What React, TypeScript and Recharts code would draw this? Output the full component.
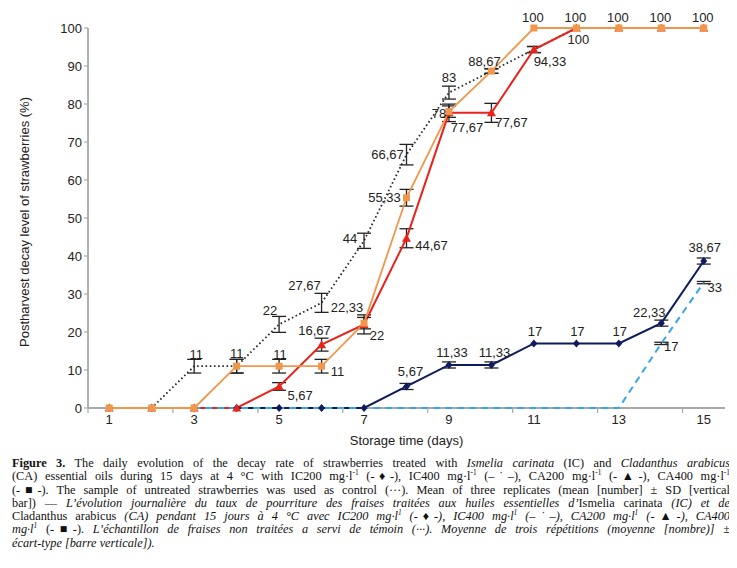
import React from 'react';
import { LineChart, Line, XAxis, YAxis, ErrorBar, LabelList } from 'recharts';

// storage days
const days = [1, 2, 3, 4, 5, 6, 7, 8, 9, 10, 11, 12, 13, 14, 15];

// mean decay level (%) and SD for each treatment
const control = [0, 0, 11, 11, 22, 27.67, 44, 66.67, 83, 88.67, 94.33, 100, 100, 100, 100];
const controlSd = [null, null, 1.8, 1.8, 2.1, 2.5, 2, 2.7, 1.7, 0.6, 0.8, null, null, null, null];
const ic200 = [0, 0, 0, 0, 0, 0, 0, 5.67, 11.33, 11.33, 17, 17, 17, 22.33, 38.67];
const ic200Sd = [null, null, null, null, null, null, null, 0.8, 0.8, 0.8, null, null, null, 0.8, 0.8];
const ic400 = [0, 0, 0, 0, 0, 0, 0, 0, 0, 0, 0, 0, 0, 17, 33];
const ic400Sd = [null, null, null, null, null, null, null, null, null, null, null, null, null, 0.3, 0.3];
const ca200 = [0, 0, 0, 0, 5.67, 16.67, 22, 44.67, 77.67, 77.67, 94.33, 100, 100, 100, 100];
const ca200Sd = [null, null, null, null, 1, 1.7, 2.5, 2.5, 2.3, 2.5, 0.8, null, null, null, null];
const ca400 = [0, 0, 0, 11, 11, 11, 22.33, 55.33, 78, 88.67, 100, 100, 100, 100, 100];
const ca400Sd = [null, null, null, 1.8, 1.8, 1.8, 1.5, 2.2, 1.5, 0.6, null, null, null, null, null];

const yTicks = [0, 10, 20, 30, 40, 50, 60, 70, 80, 90, 100];
// tick marks sit between categories, every second day
const xTicks = [0.5, 2.5, 4.5, 6.5, 8.5, 10.5, 12.5, 14.5];

// where each value label sits: day -> [dx, dy] from the point
type Offsets = Record<number, [number, number]>;
const controlLabels: Offsets = { 3: [2, -12], 4: [0, -13], 5: [-9, -14], 6: [-17, -17], 7: [-14, -2], 8: [-19, 0], 9: [0, -15] };
const ca400Labels: Offsets = { 5: [1, -12], 6: [16, 5], 7: [-17, -16], 8: [-22, 0], 9: [-10, 2], 10: [-7, -10], 11: [-1, -11], 12: [-1, -11], 13: [-1, -11], 14: [-1, -11], 15: [-1, -11] };
const ca200Labels: Offsets = { 5: [21, 9], 6: [-7, -14], 7: [13, 11], 8: [25, 7], 9: [18, 15], 10: [20, 10], 11: [16, 12], 12: [2, 11] };
const ic200Labels: Offsets = { 8: [4, -15], 9: [3, -12], 10: [3, -12], 11: [1, -12], 12: [1, -12], 13: [1, -12], 14: [-12, -11], 15: [1, -14] };
const ic400Labels: Offsets = { 14: [10, 3], 15: [11, 5] };

const rows = days.map((day, i) => ({
  day,
  control: control[i], controlSd: controlSd[i],
  ic200: ic200[i], ic200Sd: ic200Sd[i],
  ic400: ic400[i], ic400Sd: ic400Sd[i],
  ca200: ca200[i], ca200Sd: ca200Sd[i],
  ca400: ca400[i], ca400Sd: ca400Sd[i],
}));

const W = 729;
const H = 448;
const MARGIN = { top: 20, right: 12, left: 0, bottom: 0 };
const Y_AXIS_W = 80;
const PLOT_H = 380;
const PLOT_W = W - MARGIN.right - MARGIN.left - Y_AXIS_W;
const HALF_BAND = PLOT_W / days.length / 2;

const SANS = '"Liberation Sans", Arial, sans-serif';
const INK = '#222';
const AXIS = '#a9a9a9';
const ORANGE = '#f0974c';
const RED = '#e8231c';
const NAVY = '#0f1b5e';
const SKY = '#3aa5e6';

const fmt = (v: number) => (Number.isInteger(v) ? String(v) : v.toFixed(2).replace('.', ','));

const valueLabel = (offsets: Offsets) => (props: any) => {
  const vb = props.viewBox || {};
  const x = props.x ?? vb.x;
  const y = props.y ?? vb.y;
  const off = offsets[days[props.index]];
  if (!off || props.value == null || x == null) return null;
  return (
    <text x={x + off[0]} y={y + off[1]} textAnchor="middle" dominantBaseline="central"
      fontFamily={SANS} fontSize={13} fill={INK}>
      {fmt(Number(props.value))}
    </text>
  );
};

const squareDot = (p: any) => (
  <rect key={`sq-${p.index}`} x={p.cx - 3.5} y={p.cy - 3.5} width={7} height={7} fill={ORANGE} />
);
const triangleDot = (p: any) => (
  <path key={`tr-${p.index}`} d={`M${p.cx},${p.cy - 4.5}L${p.cx + 4.5},${p.cy + 3.5}L${p.cx - 4.5},${p.cy + 3.5}Z`} fill={RED} />
);
const diamondDot = (p: any) => (
  <path key={`dm-${p.index}`} d={`M${p.cx},${p.cy - 4}L${p.cx + 3.5},${p.cy}L${p.cx},${p.cy + 4}L${p.cx - 3.5},${p.cy}Z`} fill={NAVY} />
);

const XTick = (props: any) => {
  const { x, y, payload } = props;
  return (
    <text x={x + HALF_BAND} y={y} dy="0.71em" textAnchor="middle" fontFamily={SANS} fontSize={13} fill={INK}>
      {payload.value + 0.5}
    </text>
  );
};

const Sup = ({ children }: { children: React.ReactNode }) => (
  <span style={{ fontSize: '0.6em', verticalAlign: 'super', lineHeight: 0 }}>{children}</span>
);
const Mgl = () => <>mg·l<Sup>-1</Sup></>;

const lineStyle: React.CSSProperties = { textAlign: 'justify', textAlignLast: 'justify', whiteSpace: 'nowrap' };

function Caption() {
  return (
    <div style={{ marginLeft: 4, marginTop: 1, width: 718, fontFamily: '"Liberation Serif", "Times New Roman", serif', fontSize: 12.3, lineHeight: '13.3px', color: '#111' }}>
      <div style={lineStyle}>
        <b>Figure 3.</b> The daily evolution of the decay rate of strawberries treated with <i>Ismelia carinata</i> (IC) and <i>Cladanthus arabicus</i>
      </div>
      <div style={lineStyle}>
        (CA) essential oils during 15 days at 4 °C with IC200 <Mgl /> (-♦-), IC400 <Mgl /> (–˙–), CA200 <Mgl /> (-▲-), CA400 <Mgl />
      </div>
      <div style={lineStyle}>
        (-■-). The sample of untreated strawberries was used as control (···). Mean of three replicates (mean [number] ± SD [vertical
      </div>
      <div style={lineStyle}>
        bar]) — <i>L’évolution journalière du taux de pourriture des fraises traitées aux huiles essentielles d’</i>Ismelia carinata <i>(IC) et de</i>
      </div>
      <div style={lineStyle}>
        Cladanthus arabicus <i>(CA) pendant 15 jours à 4 °C avec IC200 mg·l<Sup>1</Sup> (-♦-), IC400 mg·l<Sup>1</Sup> (–˙–), CA200 mg·l<Sup>1</Sup> (-▲-), CA400</i>
      </div>
      <div style={lineStyle}>
        <i>mg·l<Sup>1</Sup> </i>(-■-). <i>L’échantillon de fraises non traitées a servi de témoin (···). Moyenne de trois répétitions (moyenne [nombre)] ±</i>
      </div>
      <div>
        <i>écart-type [barre verticale]).</i>
      </div>
    </div>
  );
}

export default function App() {
  return (
    <div style={{ width: W }}>
      <div style={{ position: 'relative', width: W, height: H }}>
        {/* x baseline sits under the series so the zero-level lines stay visible */}
        <div style={{ position: 'absolute', left: Y_AXIS_W, top: MARGIN.top + PLOT_H - 0.9, width: PLOT_W, height: 1.8, background: AXIS }} />
        <LineChart width={W} height={H} data={rows} margin={MARGIN}>
          <XAxis
            dataKey="day"
            type="number"
            domain={[0.5, 15.5]}
            ticks={xTicks}
            interval={0}
            height={H - MARGIN.top - PLOT_H}
            axisLine={false}
            tickLine={{ stroke: AXIS, strokeWidth: 1.2 }}
            tickSize={5}
            tickMargin={2}
            tick={<XTick />}
            label={{
              content: (p: any) => {
                const vb = p.viewBox;
                return (
                  <text x={vb.x + vb.width / 2} y={vb.y + 32} textAnchor="middle" dominantBaseline="central"
                    fontFamily={SANS} fontSize={13} fill={INK}>
                    Storage time (days)
                  </text>
                );
              },
            }}
          />
          <YAxis
            width={Y_AXIS_W}
            domain={[0, 100]}
            ticks={yTicks}
            interval={0}
            axisLine={{ stroke: AXIS, strokeWidth: 1.8 }}
            tickLine={{ stroke: AXIS, strokeWidth: 1.2 }}
            tickSize={4}
            tickMargin={2}
            tick={{ fontFamily: SANS, fontSize: 13, fill: INK }}
            label={{
              content: () => (
                <text x={16} y={214} transform="rotate(-90 16 214)" textAnchor="middle" dominantBaseline="central"
                  fontFamily={SANS} fontSize={13} fill={INK}>
                  Postharvest decay level of strawberries (%)
                </text>
              ),
            }}
          />
          <Line dataKey="control" stroke="#2a2a2a" strokeWidth={1.8} strokeDasharray="1.6 2.6" dot={false} isAnimationActive={false}>
            <ErrorBar dataKey="controlSd" width={7} stroke={INK} strokeWidth={1.3} />
            <LabelList dataKey="control" content={valueLabel(controlLabels)} />
          </Line>
          <Line dataKey="ic200" stroke={NAVY} strokeWidth={2} dot={diamondDot} isAnimationActive={false}>
            <ErrorBar dataKey="ic200Sd" width={7} stroke={INK} strokeWidth={1.3} />
            <LabelList dataKey="ic200" content={valueLabel(ic200Labels)} />
          </Line>
          <Line dataKey="ca200" stroke={RED} strokeWidth={2} dot={triangleDot} isAnimationActive={false}>
            <ErrorBar dataKey="ca200Sd" width={7} stroke={INK} strokeWidth={1.3} />
            <LabelList dataKey="ca200" content={valueLabel(ca200Labels)} />
          </Line>
          <Line dataKey="ic400" stroke={SKY} strokeWidth={2} strokeDasharray="7 5" dot={false} isAnimationActive={false}>
            <ErrorBar dataKey="ic400Sd" width={7} stroke={INK} strokeWidth={1.3} />
            <LabelList dataKey="ic400" content={valueLabel(ic400Labels)} />
          </Line>
          <Line dataKey="ca400" stroke={ORANGE} strokeWidth={1.8} dot={squareDot} isAnimationActive={false}>
            <ErrorBar dataKey="ca400Sd" width={7} stroke={INK} strokeWidth={1.3} />
            <LabelList dataKey="ca400" content={valueLabel(ca400Labels)} />
          </Line>
        </LineChart>
      </div>
      <Caption />
    </div>
  );
}
